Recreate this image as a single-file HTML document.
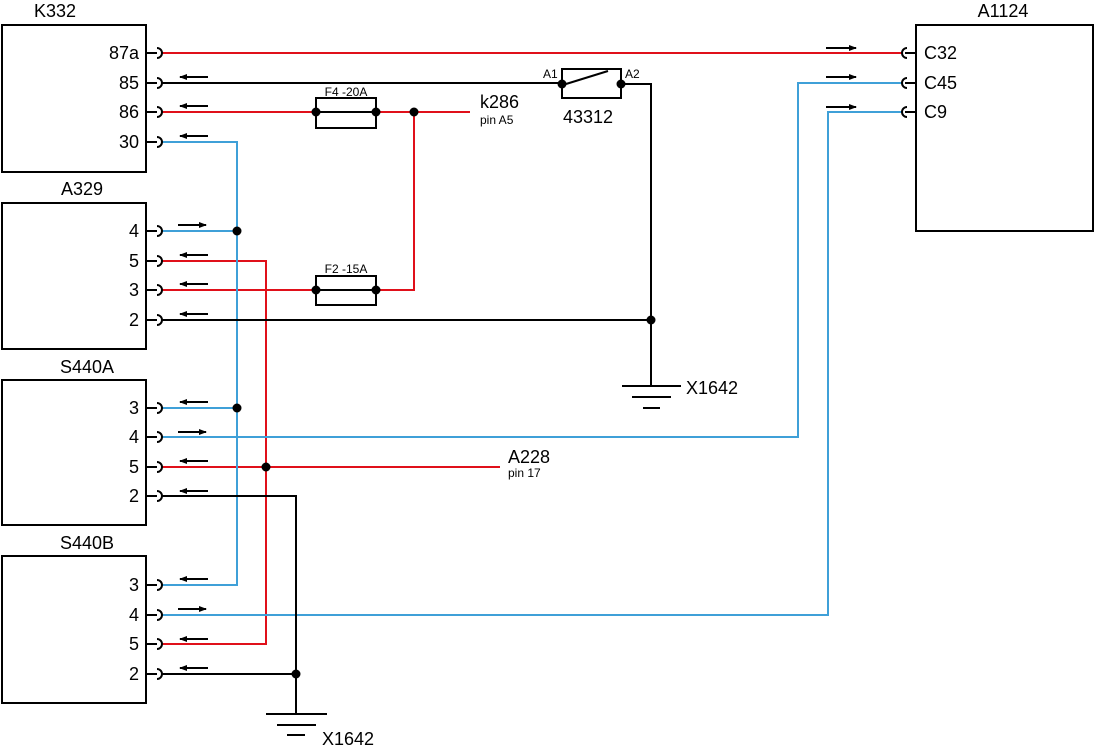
<!DOCTYPE html>
<html><head><meta charset="utf-8"><style>
html,body{margin:0;padding:0;background:#fff;}
svg{display:block;font-family:"Liberation Sans",sans-serif;}
</style></head><body>
<svg width="1095" height="749" viewBox="0 0 1095 749" xmlns="http://www.w3.org/2000/svg">
<defs>
<marker id="ah" markerWidth="8" markerHeight="6" refX="7" refY="3" orient="auto" markerUnits="userSpaceOnUse"><path d="M0,0 L8,3 L0,6 z" fill="#000"/></marker>
</defs>
<g fill="none" stroke="#000" stroke-width="2">
<rect x="2" y="25" width="144" height="147"/>
<rect x="2" y="203" width="144" height="146"/>
<rect x="2" y="380" width="144" height="145"/>
<rect x="2" y="556" width="144" height="147"/>
<rect x="916" y="25" width="177" height="206"/>
</g>
<g font-size="18" fill="#000">
<text x="55" y="17" text-anchor="middle">K332</text>
<text x="82" y="195" text-anchor="middle">A329</text>
<text x="87" y="373" text-anchor="middle">S440A</text>
<text x="87" y="549" text-anchor="middle">S440B</text>
<text x="1003" y="17" text-anchor="middle">A1124</text>
<g text-anchor="end">
<text x="139" y="59">87a</text><text x="139" y="89">85</text><text x="139" y="118">86</text><text x="139" y="148">30</text>
<text x="139" y="237">4</text><text x="139" y="267">5</text><text x="139" y="296">3</text><text x="139" y="326">2</text>
<text x="139" y="414">3</text><text x="139" y="443">4</text><text x="139" y="473">5</text><text x="139" y="502">2</text>
<text x="139" y="591">3</text><text x="139" y="621">4</text><text x="139" y="650">5</text><text x="139" y="680">2</text>
</g>
<text x="924" y="59">C32</text><text x="924" y="89">C45</text><text x="924" y="118">C9</text>
<text x="480" y="108">k286</text>
<text x="563" y="123">43312</text>
<text x="686" y="394">X1642</text>
<text x="508" y="463">A228</text>
<text x="322" y="745">X1642</text>
</g>
<g font-size="12" fill="#000">
<text x="480" y="124">pin A5</text>
<text x="508" y="477">pin 17</text>
<text x="346" y="96" text-anchor="middle">F4 -20A</text>
<text x="346" y="273" text-anchor="middle">F2 -15A</text>
<text x="543" y="78">A1</text>
<text x="625" y="78">A2</text>
</g>
<g fill="none" stroke-width="2">
<g stroke="#e0101a">
<path d="M162 53 H903"/>
<path d="M162 112 H470"/>
<path d="M414 112 V290 H162"/>
<path d="M162 261 H266 V644 H162"/>
<path d="M162 467 H500"/>
</g>
<g stroke="#3fa0d8">
<path d="M162 142 H237 V585 H162"/>
<path d="M162 231 H237"/>
<path d="M162 408 H237"/>
<path d="M162 437 H798 V83 H903"/>
<path d="M162 615 H828 V112 H903"/>
</g>
<g stroke="#000">
<path d="M162 83 H562"/>
<path d="M621 84 H651 V386"/>
<path d="M162 320 H651"/>
<path d="M162 496 H296 V714"/>
<path d="M162 674 H296"/>
<path d="M622 386 H681 M632 397 H671 M643 408 H660"/>
<path d="M266 714 H327 M277 725 H316 M287 735 H305"/>
<rect x="316" y="98" width="60" height="30"/>
<rect x="316" y="276" width="60" height="29"/>
<path d="M562 84 V69 H621 V84 M562 84 V98 H621 V84"/>
<path d="M566 84 L608 71"/>
</g>
<path d="M316 112 H376 M316 290 H376" stroke="#000"/>
</g>
<g fill="#000">
<circle cx="316" cy="112" r="4.5"/><circle cx="376" cy="112" r="4.5"/><circle cx="414" cy="112" r="4.5"/>
<circle cx="316" cy="290" r="4.5"/><circle cx="376" cy="290" r="4.5"/>
<circle cx="562" cy="84" r="4.5"/><circle cx="621" cy="84" r="4.5"/>
<circle cx="651" cy="320" r="4.5"/>
<circle cx="237" cy="231" r="4.5"/><circle cx="237" cy="408" r="4.5"/>
<circle cx="266" cy="467" r="4.5"/><circle cx="296" cy="674" r="4.5"/>
</g>
<g fill="none" stroke="#000" stroke-width="2">
<path d="M146 53 H157 M157 48 A5 5 0 0 1 157 58"/>
<path d="M146 83 H157 M157 78 A5 5 0 0 1 157 88"/>
<path d="M146 112 H157 M157 107 A5 5 0 0 1 157 117"/>
<path d="M146 142 H157 M157 137 A5 5 0 0 1 157 147"/>
<path d="M146 231 H157 M157 226 A5 5 0 0 1 157 236"/>
<path d="M146 261 H157 M157 256 A5 5 0 0 1 157 266"/>
<path d="M146 290 H157 M157 285 A5 5 0 0 1 157 295"/>
<path d="M146 320 H157 M157 315 A5 5 0 0 1 157 325"/>
<path d="M146 408 H157 M157 403 A5 5 0 0 1 157 413"/>
<path d="M146 437 H157 M157 432 A5 5 0 0 1 157 442"/>
<path d="M146 467 H157 M157 462 A5 5 0 0 1 157 472"/>
<path d="M146 496 H157 M157 491 A5 5 0 0 1 157 501"/>
<path d="M146 585 H157 M157 580 A5 5 0 0 1 157 590"/>
<path d="M146 615 H157 M157 610 A5 5 0 0 1 157 620"/>
<path d="M146 644 H157 M157 639 A5 5 0 0 1 157 649"/>
<path d="M146 674 H157 M157 669 A5 5 0 0 1 157 679"/>
<path d="M916 53 H905 M907 48 A5 5 0 0 0 907 58"/>
<path d="M916 83 H905 M907 78 A5 5 0 0 0 907 88"/>
<path d="M916 112 H905 M907 107 A5 5 0 0 0 907 117"/>
</g>
<g stroke="#000" stroke-width="2" marker-end="url(#ah)">
<path d="M208 77 H180"/><path d="M208 106 H180"/><path d="M208 136 H180"/>
<path d="M178 225 H206"/><path d="M208 255 H180"/><path d="M208 284 H180"/><path d="M208 314 H180"/>
<path d="M208 402 H180"/><path d="M178 432 H206"/><path d="M208 461 H180"/><path d="M208 491 H180"/>
<path d="M208 579 H180"/><path d="M178 609 H206"/><path d="M208 639 H180"/><path d="M208 668 H180"/>
<path d="M826 48 H856"/><path d="M826 77 H856"/><path d="M826 107 H856"/>
</g>
</svg>
</body></html>
